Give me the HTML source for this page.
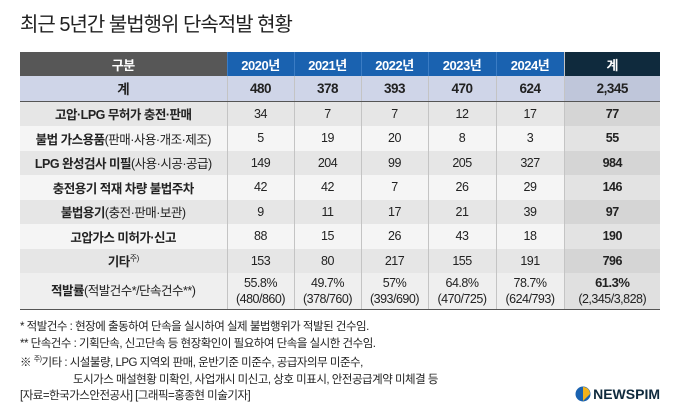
<!DOCTYPE html>
<html><head><meta charset="utf-8"><style>
body{margin:0;width:680px;height:417px;background:#fff;font-family:"Liberation Sans","Noto Sans CJK KR",sans-serif;position:relative;overflow:hidden;color:#222}
#title{position:absolute;left:20px;top:8px;font-size:20px;letter-spacing:-1px;color:#222}
table{position:absolute;left:20px;top:52px;border-collapse:collapse;table-layout:fixed;width:640px;font-size:12.5px}
td,th{padding:0;text-align:center;border-left:1px solid #c4c4c4;height:24.5px;letter-spacing:-0.5px}
td:first-child,th:first-child{border-left:none}
th{color:#fff;font-weight:bold;height:24px;font-size:13px}
th.g{background:#575757}th.y{background:#1a62b0;border-left:1px solid #3b7cc4}th.t{background:#0f2a3d}
tr.sum td{background:#cfd5e8;font-weight:bold;font-size:13.5px;border-bottom:1.5px solid #555}
tr.sum td.t{background:#bfc6da}
tr.a td{background:#e6e6e6}tr.b td{background:#f5f5f5}
tr.a td.t{background:#d5d5d5}tr.b td.t{background:#e3e3e3}
td.lab{font-weight:bold}td.lab span{font-weight:normal}
td.t{font-weight:bold}
tr.rate td{height:36px;line-height:16px;background:#efefef;border-bottom:1.5px solid #555}
tr.rate td.t{background:#e0e0e0}
.notes{position:absolute;left:20px;top:319px;font-size:11.5px;line-height:16.6px;letter-spacing:-0.5px;color:#222}
#logo{position:absolute;right:20px;top:386px;font-weight:bold;font-size:14px;color:#0f2a3d;display:flex;align-items:center;gap:2px}
</style></head><body>
<div id="title">최근 5년간 불법행위 단속적발 현황</div>
<table>
<colgroup><col style="width:207px"><col style="width:67px"><col style="width:67px"><col style="width:67px"><col style="width:68px"><col style="width:68px"><col style="width:96px"></colgroup>
<tr><th class="g">구분</th><th class="y">2020년</th><th class="y">2021년</th><th class="y">2022년</th><th class="y">2023년</th><th class="y">2024년</th><th class="t">계</th></tr>
<tr class="sum"><td>계</td><td>480</td><td>378</td><td>393</td><td>470</td><td>624</td><td class="t">2,345</td></tr>
<tr class="a"><td class="lab">고압·LPG 무허가 충전·판매</td><td>34</td><td>7</td><td>7</td><td>12</td><td>17</td><td class="t">77</td></tr>
<tr class="b"><td class="lab">불법 가스용품<span>(판매·사용·개조·제조)</span></td><td>5</td><td>19</td><td>20</td><td>8</td><td>3</td><td class="t">55</td></tr>
<tr class="a"><td class="lab">LPG 완성검사 미필<span>(사용·시공·공급)</span></td><td>149</td><td>204</td><td>99</td><td>205</td><td>327</td><td class="t">984</td></tr>
<tr class="b"><td class="lab">충전용기 적재 차량 불법주차</td><td>42</td><td>42</td><td>7</td><td>26</td><td>29</td><td class="t">146</td></tr>
<tr class="a"><td class="lab">불법용기<span>(충전·판매·보관)</span></td><td>9</td><td>11</td><td>17</td><td>21</td><td>39</td><td class="t">97</td></tr>
<tr class="b"><td class="lab">고압가스 미허가·신고</td><td>88</td><td>15</td><td>26</td><td>43</td><td>18</td><td class="t">190</td></tr>
<tr class="a"><td class="lab">기타<sup style="font-size:8px;font-weight:normal">주)</sup></td><td>153</td><td>80</td><td>217</td><td>155</td><td>191</td><td class="t">796</td></tr>
<tr class="rate"><td class="lab">적발률<span>(적발건수*/단속건수**)</span></td><td>55.8%<br>(480/860)</td><td>49.7%<br>(378/760)</td><td>57%<br>(393/690)</td><td>64.8%<br>(470/725)</td><td>78.7%<br>(624/793)</td><td class="t"><span style="font-size:13px">61.3%</span><br><span style="font-weight:normal">(2,345/3,828)</span></td></tr>
</table>
<div class="notes">
* 적발건수 : 현장에 출동하여 단속을 실시하여 실제 불법행위가 적발된 건수임.<br>
** 단속건수 : 기획단속, 신고단속 등 현장확인이 필요하여 단속을 실시한 건수임.<br>
※ <sup style="font-size:7px">주)</sup>기타 : 시설불량, LPG 지역외 판매, 운반기준 미준수, 공급자의무 미준수,<br>
<span style="padding-left:53px">도시가스 매설현황 미확인, 사업개시 미신고, 상호 미표시, 안전공급계약 미체결 등</span><br>
[자료=한국가스안전공사] [그래픽=홍종현 미술기자]
</div>
<div id="logo"><svg width="16" height="16" viewBox="0 0 16 16"><circle cx="8" cy="8" r="7.5" fill="#1a62b0"/><path d="M8 1 A7 7 0 0 1 15 8 L8 15 Z" fill="#f3b21b"/></svg>NEWSPIM</div>
</body></html>
